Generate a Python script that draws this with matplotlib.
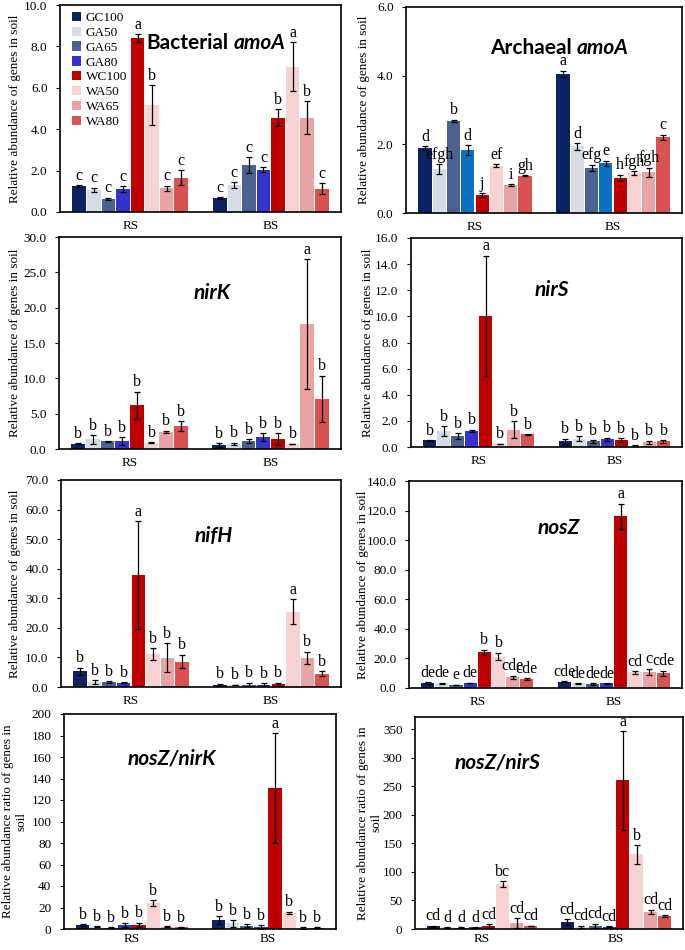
import matplotlib
matplotlib.use("Agg")
import matplotlib.pyplot as plt
from matplotlib.patches import Patch
import numpy as np

plt.rcParams['font.family'] = ['Liberation Serif', 'DejaVu Serif']

W, H = 685, 950

treatments = ["GC100", "GA50", "GA65", "GA80", "WC100", "WA50", "WA65", "WA80"]
sites = ["RS", "BS"]
colors = ["#0b2362", "#d6dce6", "#4b6190", "#3434cc", "#c00000", "#f6d2d2", "#e8a4a4", "#d95252"]
colors_arch = ["#0b2362", "#d6dce6", "#4b6190", "#0a70c4", "#c00000", "#f6d2d2", "#e8a4a4", "#d95252"]

# values: first 8 = RS, last 8 = BS (same treatment order)
bac_mean = [1.26, 1.07, 0.65, 1.11, 8.39, 5.16, 1.15, 1.66,
            0.68, 1.29, 2.26, 2.05, 4.56, 7.02, 4.56, 1.13]
bac_sd = [0.03, 0.10, 0.05, 0.13, 0.20, 0.97, 0.13, 0.36,
          0.05, 0.15, 0.40, 0.10, 0.42, 1.18, 0.80, 0.27]
bac_sig = ["c", "c", "c", "c", "a", "b", "c", "c",
           "c", "c", "c", "c", "b", "a", "b", "c"]

arc_mean = [1.89, 1.28, 2.69, 1.84, 0.53, 1.38, 0.82, 1.09,
            4.05, 1.94, 1.31, 1.45, 1.02, 1.16, 1.18, 2.20]
arc_sd = [0.05, 0.15, 0.03, 0.14, 0.05, 0.05, 0.02, 0.02,
          0.10, 0.10, 0.10, 0.07, 0.10, 0.05, 0.14, 0.08]
arc_sig = ["d", "efgh", "b", "d", "j", "ef", "i", "gh",
           "a", "d", "efg", "e", "h", "fgh", "fgh", "c"]

nirk_mean = [0.75, 1.37, 1.08, 1.13, 6.20, 0.90, 2.45, 3.25,
             0.57, 0.70, 1.13, 1.65, 1.41, 0.70, 17.66, 7.07]
nirk_sd = [0.05, 0.60, 0.05, 0.50, 1.90, 0.05, 0.15, 0.65,
           0.25, 0.20, 0.30, 0.55, 0.80, 0.05, 9.20, 3.30]
nirk_sig = ["b"] * 14 + ["a", "b"]

nirs_mean = [0.51, 1.20, 0.85, 1.23, 10.06, 0.23, 1.33, 0.97,
             0.43, 0.64, 0.43, 0.59, 0.51, 0.10, 0.36, 0.43]
nirs_sd = [0.03, 0.37, 0.22, 0.08, 4.60, 0.02, 0.65, 0.03,
           0.20, 0.18, 0.10, 0.13, 0.15, 0.02, 0.12, 0.10]
nirs_sig = ["b", "b", "b", "b", "a", "b", "b", "b",
            "b", "b", "b", "b", "b", "b", "b", "b"]

nifh_mean = [5.3, 1.7, 1.7, 1.5, 37.8, 11.1, 9.9, 8.6,
             0.8, 0.7, 0.8, 0.8, 1.0, 25.4, 9.8, 4.5]
nifh_sd = [1.2, 0.6, 0.2, 0.2, 18.2, 2.1, 4.9, 2.3,
           0.3, 0.1, 0.6, 0.5, 0.5, 4.2, 2.1, 0.85]
nifh_sig = ["b", "b", "b", "b", "a", "b", "b", "b",
            "b", "b", "b", "b", "b", "a", "b", "b"]

nosz_mean = [3.4, 3.1, 2.0, 3.4, 24.3, 21.3, 7.2, 5.8,
             4.3, 3.1, 2.7, 3.1, 116.2, 10.6, 10.8, 9.9]
nosz_sd = [0.5, 0.6, 0.3, 0.2, 1.7, 2.6, 1.0, 0.7,
           0.3, 0.2, 0.5, 0.2, 8.5, 0.8, 2.3, 1.7]
nosz_sig = ["de", "de", "e", "de", "b", "b", "cde", "cde",
            "cde", "de", "de", "de", "a", "cd", "c", "cde"]

zk_mean = [3.7, 2.2, 1.2, 3.4, 4.0, 23.8, 2.2, 1.5,
           8.6, 5.2, 3.1, 1.8, 131.2, 14.8, 0.9, 1.2]
zk_sd = [0.8, 0.5, 0.3, 2.0, 2.0, 2.8, 0.4, 0.4,
         3.5, 3.0, 1.5, 1.5, 51.2, 1.2, 0.8, 0.6]
zk_sig = ["b"] * 12 + ["a", "b", "b", "b"]

zs_mean = [4.6, 2.9, 2.3, 2.9, 4.6, 78.6, 10.4, 5.2,
           12.1, 4.0, 5.8, 4.0, 260.0, 130.6, 30.0, 23.1]
zs_sd = [1.0, 0.5, 0.5, 0.5, 3.5, 5.2, 8.0, 0.6,
         5.5, 2.0, 3.5, 0.6, 86.0, 16.0, 4.0, 1.5]
zs_sig = ["cd", "d", "d", "d", "cd", "bc", "cd", "cd",
          "cd", "cd", "cd", "cd", "a", "b", "cd", "cd"]

ylab1 = "Relative abundance of genes in soil"
ylab2 = "Relative abundance ratio of genes in\nsoil"

fig = plt.figure(figsize=(W / 100, H / 100), dpi=100)


def panel(box, mean, sd, sig, ymax, ystep, ytop, dec, ylabel, lab_right, cols, xpad=6):
    l, t, r, b = box
    ax = fig.add_axes([l / W, 1 - b / H, (r - l) / W, (b - t) / H])
    step = 0.83 / 8
    offs = (np.arange(8) - 3.5) * step
    mean = np.array(mean)
    sd = np.array(sd)
    for g in range(2):
        x = g + offs
        m = mean[g * 8:(g + 1) * 8]
        e = sd[g * 8:(g + 1) * 8]
        ax.bar(x, m, width=step * 0.93, color=cols, zorder=2)
        ax.errorbar(x, m, yerr=e, fmt='none', ecolor='black', elinewidth=0.9,
                    capsize=2.5, capthick=0.9, zorder=3)
        for xi, mi, ei, s in zip(x, m, e, sig[g * 8:(g + 1) * 8]):
            ax.annotate(s, (xi, mi + ei), xytext=(0, 1), textcoords='offset points',
                        ha='center', va='bottom', fontsize=11.5, zorder=4)
    ax.set_xlim(-0.5, 1.5)
    ax.set_ylim(0, ytop)
    ticks = np.arange(0, ymax + ystep / 2, ystep)
    ax.set_yticks(ticks)
    ax.set_yticklabels([f"{v:.{dec}f}" for v in ticks], fontsize=9.5)
    ax.set_xticks([0, 1])
    ax.set_xticklabels(sites, fontsize=9.5)
    ax.tick_params(axis='x', length=0, pad=xpad)
    ax.tick_params(axis='y', direction='out', length=3, width=0.8, pad=6)
    for sp in ax.spines.values():
        sp.set_linewidth(1.2)
        sp.set_color('black')
    ax.set_ylabel(ylabel, fontsize=9.5, multialignment='center')
    ax.yaxis.set_label_coords((lab_right - l) / (r - l), 0.5)
    return ax


ax1 = panel((60, 5, 341, 212), bac_mean, bac_sd, bac_sig, 10, 2, 10, 1, ylab1, 21, colors)
panel((406, 7, 682, 213), arc_mean, arc_sd, arc_sig, 6, 2, 6, 1, ylab1, 370, colors_arch)
panel((59, 237, 341, 449), nirk_mean, nirk_sd, nirk_sig, 30, 5, 30, 1, ylab1, 21, colors)
panel((411, 238, 682, 447), nirs_mean, nirs_sd, nirs_sig, 16, 2, 16, 1, ylab1, 374, colors)
panel((61, 480, 341, 687), nifh_mean, nifh_sd, nifh_sig, 70, 10, 70, 1, ylab1, 21, colors)
panel((409, 481, 682, 688), nosz_mean, nosz_sd, nosz_sig, 140, 20, 140, 1, ylab1, 369, colors)
panel((64, 714, 336, 929), zk_mean, zk_sd, zk_sig, 200, 20, 200, 0, ylab2, 28, colors, xpad=3)
panel((415, 717, 683, 929), zs_mean, zs_sd, zs_sig, 350, 50, 371, 0, ylab2, 383, colors, xpad=3)

handles = [Patch(facecolor=c) for c in colors]
ax1.legend(handles, treatments, loc='upper left', bbox_to_anchor=(0.0, 1.025),
           frameon=False, fontsize=9.5, handlelength=0.7, handleheight=0.7,
           handletextpad=0.35, labelspacing=0.2, borderpad=0.4)

# panel titles: bold, gene names in bold italic
fig.canvas.draw()
rend = fig.canvas.get_renderer()


def title(parts, cx, cy, size=15):
    texts = []
    for s, st in parts:
        texts.append(fig.text(0, 1 - cy / H, s, family=['Lato', 'DejaVu Sans'],
                              fontweight='bold', fontstyle=st, fontsize=size,
                              ha='left', va='center'))
    gap = 5
    widths = [tx.get_window_extent(rend).width for tx in texts]
    x = cx - (sum(widths) + gap * (len(texts) - 1)) / 2
    for tx, w in zip(texts, widths):
        tx.set_x(x / W)
        x += w + gap


title([("Bacterial", 'normal'), ("amoA", 'italic')], 216, 43)
title([("Archaeal", 'normal'), ("amoA", 'italic')], 559, 48)
title([("nirK", 'italic')], 212, 293)
title([("nirS", 'italic')], 552, 290)
title([("nifH", 'italic')], 214, 536)
title([("nosZ", 'italic')], 559, 528)
title([("nosZ/nirK", 'italic')], 172, 759)
title([("nosZ/nirS", 'italic')], 498, 763)

fig.savefig("out.png", dpi=100)
